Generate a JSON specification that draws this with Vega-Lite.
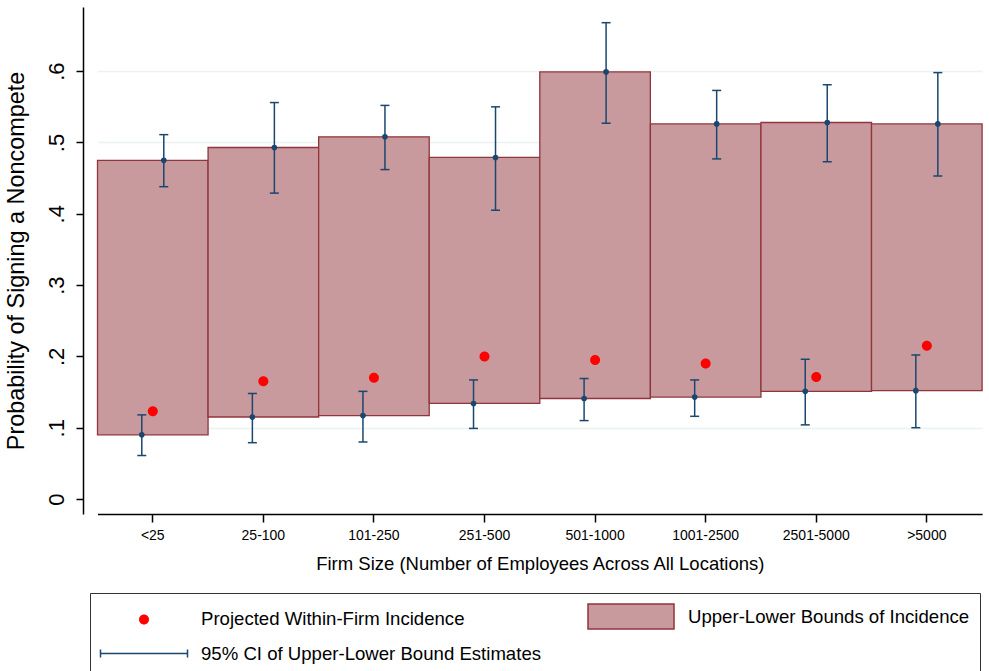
{
  "$schema": "https://vega.github.io/schema/vega-lite/v6.json",
  "width": 906,
  "height": 507,
  "autosize": {"type": "none"},
  "padding": {"left": 83, "top": 7, "right": 0, "bottom": 157},
  "background": "white",
  "config": {
    "font": "Liberation Sans",
    "view": {"stroke": null},
    "axis": {
      "domainColor": "#000000",
      "domainWidth": 1.5,
      "tickColor": "#000000",
      "tickWidth": 1.5,
      "labelColor": "#000000",
      "titleColor": "#000000",
      "titleFontWeight": "normal",
      "labelFont": "Liberation Sans",
      "titleFont": "Liberation Sans"
    },
    "legend": {
      "orient": "none",
      "legendX": 7,
      "legendY": 586,
      "direction": "horizontal",
      "columns": 2,
      "symbolSize": 625,
      "symbolStrokeWidth": 1.5,
      "symbolOpacity": 1,
      "symbolOffset": 30.5,
      "labelFontSize": 18.6,
      "labelColor": "#000000",
      "labelFont": "Liberation Sans",
      "labelLimit": 600,
      "labelOffset": 43.5,
      "rowPadding": 8,
      "columnPadding": 43,
      "padding": 10,
      "strokeColor": "#333333"
    }
  },
  "datasets": {
    "estimates": [
      {"size": "<25", "bound": "upper", "est": 0.475, "lo": 0.438, "hi": 0.511},
      {"size": "25-100", "bound": "upper", "est": 0.493, "lo": 0.429, "hi": 0.556},
      {"size": "101-250", "bound": "upper", "est": 0.508, "lo": 0.462, "hi": 0.552},
      {"size": "251-500", "bound": "upper", "est": 0.479, "lo": 0.405, "hi": 0.550},
      {"size": "501-1000", "bound": "upper", "est": 0.599, "lo": 0.527, "hi": 0.668},
      {"size": "1001-2500", "bound": "upper", "est": 0.526, "lo": 0.477, "hi": 0.573},
      {"size": "2501-5000", "bound": "upper", "est": 0.528, "lo": 0.473, "hi": 0.581},
      {"size": ">5000", "bound": "upper", "est": 0.526, "lo": 0.453, "hi": 0.598},
      {"size": "<25", "bound": "lower", "est": 0.090, "lo": 0.061, "hi": 0.118},
      {"size": "25-100", "bound": "lower", "est": 0.115, "lo": 0.079, "hi": 0.148},
      {"size": "101-250", "bound": "lower", "est": 0.117, "lo": 0.080, "hi": 0.151},
      {"size": "251-500", "bound": "lower", "est": 0.134, "lo": 0.099, "hi": 0.167},
      {"size": "501-1000", "bound": "lower", "est": 0.141, "lo": 0.110, "hi": 0.169},
      {"size": "1001-2500", "bound": "lower", "est": 0.143, "lo": 0.116, "hi": 0.167},
      {"size": "2501-5000", "bound": "lower", "est": 0.151, "lo": 0.104, "hi": 0.196},
      {"size": ">5000", "bound": "lower", "est": 0.152, "lo": 0.100, "hi": 0.202}
    ],
    "projected": [
      {"size": "<25", "incidence": 0.123},
      {"size": "25-100", "incidence": 0.165},
      {"size": "101-250", "incidence": 0.170},
      {"size": "251-500", "incidence": 0.200},
      {"size": "501-1000", "incidence": 0.195},
      {"size": "1001-2500", "incidence": 0.190},
      {"size": "2501-5000", "incidence": 0.171},
      {"size": ">5000", "incidence": 0.215}
    ]
  },
  "encoding": {
    "x": {
      "field": "size",
      "type": "nominal",
      "sort": ["<25", "25-100", "101-250", "251-500", "501-1000", "1001-2500", "2501-5000", ">5000"],
      "scale": {"range": [14.5, 899.1], "paddingInner": 0, "paddingOuter": 0},
      "axis": {
        "title": "Firm Size (Number of Employees Across All Locations)",
        "titleFontSize": 18.5,
        "titleBaseline": "alphabetic",
        "titleY": 55,
        "labelAngle": 0,
        "labelFontSize": 14,
        "labelPadding": 6,
        "tickSize": 8,
        "grid": false
      }
    }
  },
  "layer": [
    {
      "data": {"name": "estimates"},
      "mark": {"type": "bar", "strokeWidth": 1.3},
      "encoding": {
        "y": {
          "aggregate": "max",
          "field": "est",
          "type": "quantitative",
          "scale": {"domain": [-0.021, 0.69], "nice": false, "zero": false},
          "axis": {
            "title": "Probability of Signing a Noncompete",
            "titleFontSize": 23.4,
            "titleBaseline": "alphabetic",
            "titleX": -60,
            "values": [0, 0.1, 0.2, 0.3, 0.4, 0.5, 0.6],
            "labelExpr": "datum.value == 0 ? '0' : substring(format(datum.value, '.1f'), 1)",
            "labelAngle": 270,
            "labelAlign": "center",
            "labelBaseline": "alphabetic",
            "labelFontSize": 22,
            "labelPadding": 13,
            "tickSize": 7,
            "grid": true,
            "gridWidth": 1.5,
            "gridColor": {"condition": {"test": "datum.value === 0", "value": "transparent"}, "value": "#eaf2f3"}
          }
        },
        "y2": {"aggregate": "min", "field": "est"},
        "fill": {
          "datum": "Upper-Lower Bounds of Incidence",
          "scale": {
            "domain": ["Projected Within-Firm Incidence", "Upper-Lower Bounds of Incidence", "95% CI of Upper-Lower Bound Estimates"],
            "range": ["#ff0000", "#c89a9d", "transparent"]
          },
          "legend": {"title": null}
        },
        "stroke": {
          "datum": "Upper-Lower Bounds of Incidence",
          "scale": {
            "domain": ["Projected Within-Firm Incidence", "Upper-Lower Bounds of Incidence", "95% CI of Upper-Lower Bound Estimates"],
            "range": ["transparent", "#90353b", "#1a476f"]
          },
          "legend": {"title": null}
        }
      }
    },
    {
      "data": {"name": "estimates"},
      "mark": {"type": "rule", "strokeWidth": 1.5},
      "encoding": {
        "xOffset": {"field": "bound", "type": "nominal", "scale": {"domain": ["lower", "upper"], "range": [33.3, 77.3], "paddingInner": 0, "paddingOuter": 0}},
        "y": {"field": "lo", "type": "quantitative"},
        "y2": {"field": "hi"},
        "stroke": {"datum": "95% CI of Upper-Lower Bound Estimates", "legend": {"title": null}}
      }
    },
    {
      "data": {"name": "estimates"},
      "mark": {"type": "tick", "size": 9, "thickness": 1.5, "color": "#1a476f", "opacity": 1},
      "encoding": {
        "xOffset": {"field": "bound", "type": "nominal"},
        "y": {"field": "lo", "type": "quantitative"}
      }
    },
    {
      "data": {"name": "estimates"},
      "mark": {"type": "tick", "size": 9, "thickness": 1.5, "color": "#1a476f", "opacity": 1},
      "encoding": {
        "xOffset": {"field": "bound", "type": "nominal"},
        "y": {"field": "hi", "type": "quantitative"}
      }
    },
    {
      "data": {"name": "estimates"},
      "mark": {"type": "circle", "size": 32, "color": "#1a476f", "opacity": 1},
      "encoding": {
        "xOffset": {"field": "bound", "type": "nominal"},
        "y": {"field": "est", "type": "quantitative"}
      }
    },
    {
      "data": {"name": "projected"},
      "mark": {"type": "point", "filled": true, "size": 625, "opacity": 1},
      "encoding": {
        "y": {"field": "incidence", "type": "quantitative"},
        "fill": {"datum": "Projected Within-Firm Incidence", "legend": {"title": null}},
        "shape": {
          "datum": "Projected Within-Firm Incidence",
          "scale": {
            "domain": ["Projected Within-Firm Incidence", "Upper-Lower Bounds of Incidence", "95% CI of Upper-Lower Bound Estimates"],
            "range": [
              "M-0.4,0A0.4,0.4 0 1,0 0.4,0A0.4,0.4 0 1,0 -0.4,0Z",
              "M-3.44,-1H3.44V1H-3.44Z",
              "M-3.48,-0.32V0.32M-3.48,0H3.48M3.48,-0.32V0.32"
            ]
          },
          "legend": {"title": null}
        }
      }
    }
  ]
}
